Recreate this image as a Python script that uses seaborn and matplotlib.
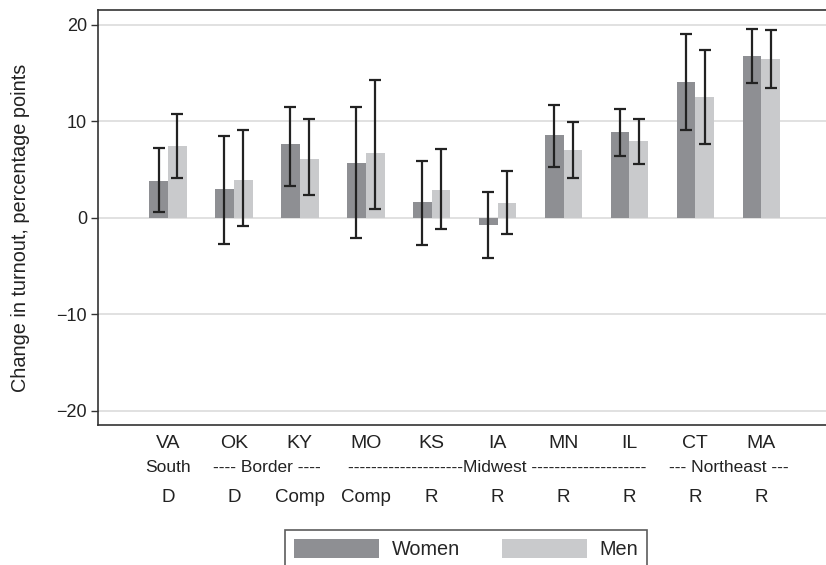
import numpy as np
import pandas as pd
import seaborn as sns
import matplotlib.pyplot as plt

# ---------------- data ----------------
states = ["VA", "OK", "KY", "MO", "KS", "IA", "MN", "IL", "CT", "MA"]
region_of = ["South", "Border", "Border", "Midwest", "Midwest", "Midwest",
             "Midwest", "Midwest", "Northeast", "Northeast"]
region_text = {
    "South": "South",
    "Border": "---- Border ----",
    "Midwest": "--------------------Midwest --------------------",
    "Northeast": "--- Northeast ---",
}
party = ["D", "D", "Comp", "Comp", "R", "R", "R", "R", "R", "R"]

women = [3.84, 3.01, 7.61, 5.67, 1.66, -0.76, 8.58, 8.86, 14.08, 16.74]
women_lo = [0.56, -2.76, 3.32, -2.07, -2.86, -4.18, 5.29, 6.43, 9.13, 14.00]
women_hi = [7.22, 8.44, 11.45, 11.51, 5.88, 2.63, 11.72, 11.31, 19.02, 19.54]
men = [7.41, 3.94, 6.09, 6.71, 2.87, 1.56, 7.02, 7.92, 12.52, 16.43]
men_lo = [4.08, -0.86, 2.32, 0.90, -1.14, -1.69, 4.12, 5.57, 7.61, 13.45]
men_hi = [10.72, 9.13, 10.24, 14.32, 7.10, 4.81, 9.96, 10.27, 17.40, 19.43]

groups = ["Women", "Men"]
colors = ["#8e8f93", "#c9cacc"]
yticks = [-20, -10, 0, 10, 20]

df = pd.DataFrame({
    "state": states * 2,
    "sex": ["Women"] * len(states) + ["Men"] * len(states),
    "change": women + men,
    "lo": women_lo + men_lo,
    "hi": women_hi + men_hi,
})

# ---------------- figure ----------------
sns.set_theme(style="white")
plt.rcParams["font.family"] = ["Liberation Sans", "DejaVu Sans"]

fig = plt.figure(figsize=(8.26, 5.65), dpi=100)
ax = fig.add_axes([98 / 826, 1 - 425 / 565, 1 - 98 / 826, 415 / 565])

sns.barplot(data=df, x="state", y="change", hue="sex", order=states,
            hue_order=groups, palette=colors, width=0.57, errorbar=None,
            saturation=1, linewidth=0, ax=ax, zorder=2)

# error bars at the bar centres
for cont, g in zip(ax.containers, groups):
    sub = df[df["sex"] == g].set_index("state")
    for patch in cont.patches:
        xc = patch.get_x() + patch.get_width() / 2
        st = states[int(round(xc))]
        v, lo, hi = sub.loc[st, "change"], sub.loc[st, "lo"], sub.loc[st, "hi"]
        ax.errorbar([xc], [v], yerr=[[v - lo], [hi - v]], fmt="none",
                    ecolor="#222222", elinewidth=1.6, capsize=4.4,
                    capthick=1.6, zorder=3)

ax.set_xlim(-1.06, 9.98)
ax.set_ylim(-21.5, 21.55)
ax.set_yticks(yticks)
ax.set_yticklabels([f"{t}".replace("-", "\u2212") for t in yticks])
ax.yaxis.grid(True, color="#dedede", linewidth=1.3, zorder=0)
ax.xaxis.grid(False)
ax.set_axisbelow(True)

for s in ["left", "bottom", "top"]:
    ax.spines[s].set_color("#333333")
    ax.spines[s].set_linewidth(1.2)
ax.spines["right"].set_visible(False)

ax.tick_params(axis="y", which="both", left=True, length=5, width=1,
               color="#333333", labelsize=13, labelcolor="#222222", pad=3)
ax.tick_params(axis="x", length=0, labelsize=14, labelcolor="#222222", pad=7)

ax.set_xlabel("")
ax.set_ylabel("Change in turnout, percentage points", fontsize=14.3,
              color="#222222")
ax.yaxis.set_label_coords(-0.094, 0.475)

# extra rows under the state labels
trans = ax.get_xaxis_transform()
seen = []
for r in region_of:
    if r not in seen:
        seen.append(r)
for r in seen:
    idx = [i for i, rr in enumerate(region_of) if rr == r]
    ax.text(np.mean(idx), -0.1036, region_text[r], transform=trans,
            ha="center", va="center", fontsize=12.5, color="#222222")
for i, p in enumerate(party):
    ax.text(i, -0.1735, p, transform=trans, ha="center", va="center",
            fontsize=13.5, color="#222222")

# legend
leg0 = ax.get_legend()
handles = leg0.legend_handles if leg0 is not None else []
if leg0 is not None:
    leg0.remove()
leg = ax.legend(handles, groups, loc="upper center",
                bbox_to_anchor=(466 / 826, 1 - 530 / 565),
                bbox_transform=fig.transFigure, ncol=2, fontsize=14.3,
                frameon=True, fancybox=False, handlelength=4.3,
                handleheight=1.1, handletextpad=0.62, columnspacing=2.1,
                borderpad=0.45, borderaxespad=0)
leg.get_frame().set_edgecolor("#333333")
leg.get_frame().set_linewidth(1.2)

fig.savefig("out.png", dpi=100)
